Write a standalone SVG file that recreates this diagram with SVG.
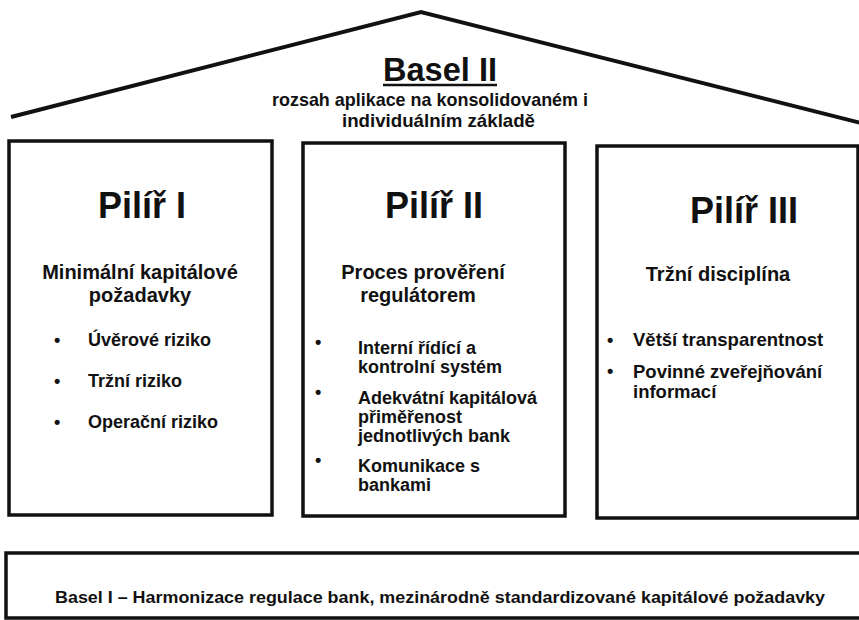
<svg xmlns="http://www.w3.org/2000/svg" width="859" height="620" viewBox="0 0 859 620">
<style>
text{font-family:"Liberation Sans",Arial,sans-serif;font-weight:bold;fill:#111}
.box{fill:none;stroke:#111;stroke-width:3.5}
.h1{font-size:36px;text-anchor:middle}
.h2{font-size:20px;text-anchor:middle}
.it{font-size:18px}
.bu{font-size:18px}
</style>
<rect width="859" height="620" fill="#fff"/>
<g id="roof">
<polyline points="11,117 421,12 861,123" fill="none" stroke="#111" stroke-width="4" stroke-linejoin="miter"/>
<text x="383" y="81" style="font-size:34px" textLength="114" lengthAdjust="spacingAndGlyphs">Basel II</text>
<line x1="383" y1="85" x2="497" y2="85" stroke="#111" stroke-width="2.5"/>
<text x="272" y="106" style="font-size:18.5px" textLength="316" lengthAdjust="spacingAndGlyphs">rozsah aplikace na konsolidovaném i</text>
<text x="342" y="127" style="font-size:18.5px" textLength="193" lengthAdjust="spacingAndGlyphs">individuálním základě</text>
</g>
<g id="pillar1">
<rect x="9" y="141" width="263" height="374" class="box"/>
<text x="142" y="218" class="h1">Pilíř I</text>
<text x="140" y="279" class="h2">Minimální kapitálové</text>
<text x="140" y="302" class="h2">požadavky</text>
<text x="54" y="346" class="bu">•</text><text x="88" y="346" class="it">Úvěrové riziko</text>
<text x="54" y="387" class="bu">•</text><text x="88" y="387" class="it">Tržní riziko</text>
<text x="54" y="428" class="bu">•</text><text x="88" y="428" class="it">Operační riziko</text>
</g>
<g id="pillar2">
<rect x="303" y="143" width="262" height="373" class="box"/>
<text x="434" y="218" class="h1">Pilíř II</text>
<text x="423" y="279" class="h2">Proces prověření</text>
<text x="418" y="302" class="h2">regulátorem</text>
<text x="315" y="348" class="bu">•</text>
<text x="358" y="354" class="it">Interní řídící a</text>
<text x="358" y="373" class="it">kontrolní systém</text>
<text x="315" y="398" class="bu">•</text>
<text x="358" y="404" class="it">Adekvátní kapitálová</text>
<text x="358" y="423" class="it">přiměřenost</text>
<text x="358" y="442" class="it">jednotlivých bank</text>
<text x="315" y="466" class="bu">•</text>
<text x="358" y="472" class="it">Komunikace s</text>
<text x="358" y="491" class="it">bankami</text>
</g>
<g id="pillar3">
<rect x="597" y="146" width="261" height="372" class="box"/>
<text x="744" y="223" class="h1">Pilíř III</text>
<text x="718" y="281" class="h2">Tržní disciplína</text>
<text x="607" y="346" class="bu">•</text>
<text x="633" y="346" class="it" style="font-size:18.5px">Větší transparentnost</text>
<text x="607" y="377" class="bu">•</text>
<text x="633" y="378" class="it" style="font-size:18.5px">Povinné zveřejňování</text>
<text x="633" y="398" class="it" style="font-size:18.5px">informací</text>
</g>
<g id="foundation">
<rect x="6" y="553" width="860" height="65" class="box"/>
<text x="55" y="603" style="font-size:17px" textLength="770" lengthAdjust="spacingAndGlyphs">Basel I – Harmonizace regulace bank, mezinárodně standardizované kapitálové požadavky</text>
</g>
<g id="connectors"></g>
</svg>
